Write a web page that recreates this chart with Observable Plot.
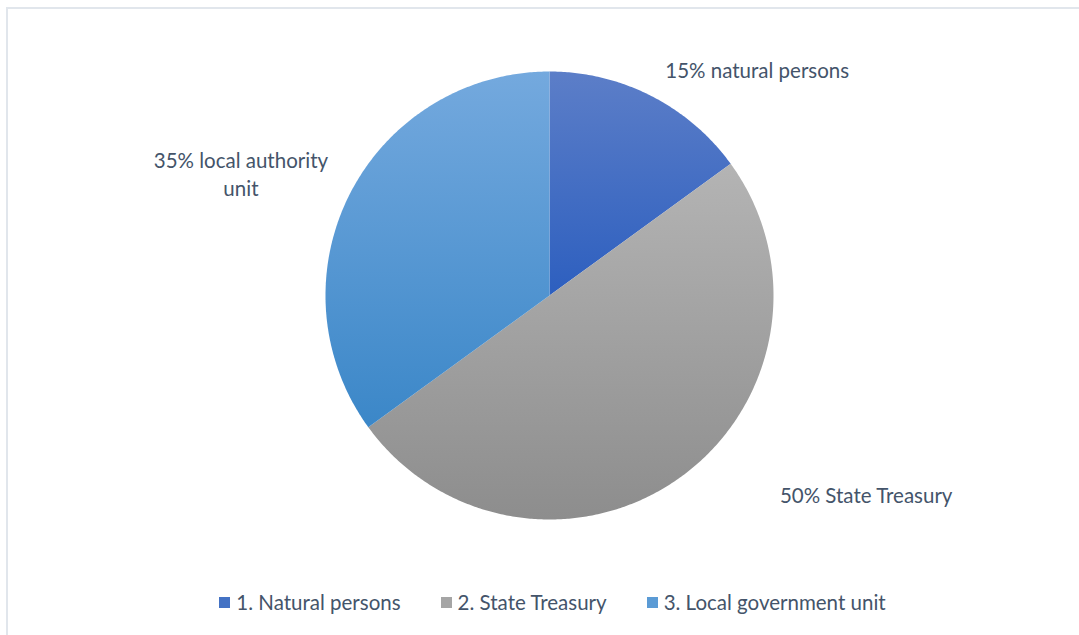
<!DOCTYPE html>
<html>
<head>
<meta charset="utf-8">
<script src="https://cdn.jsdelivr.net/npm/d3@7"></script>
<script src="https://cdn.jsdelivr.net/npm/@observablehq/plot@0.6"></script>
<style>
  html, body { margin: 0; padding: 0; background: #fff; width: 1079px; height: 635px; overflow: hidden; }
  #frame { position: absolute; left: 6px; top: 7px; width: 1090px; height: 650px; border: 2px solid #e1e6ec; box-sizing: border-box; }
  #chart { position: absolute; left: 0; top: 0; }
  #legend { position: absolute; left: 0; top: 590px; width: 1105px; display: flex; justify-content: center; gap: 40px;
            font-family: Lato, "Open Sans", sans-serif; font-size: 20.5px; color: #44546a; }
  .item { display: flex; align-items: center; }
  .sw { width: 11px; height: 11px; margin-right: 6px; display: inline-block; }
</style>
</head>
<body>
<div id="frame"></div>
<div id="chart"></div>
<div id="legend"></div>
<script>
// ---- data ----
const categories = ["1. Natural persons", "2. State Treasury", "3. Local government unit"];
const shares = [15, 50, 35];
const labels = ["15% natural persons", "50% State Treasury", "35% local authority\nunit"];
const legendColors = ["#4472c4", "#a5a5a5", "#5b9bd5"];
const gradTop = ["#5c7ec8", "#b4b4b4", "#74a9de"];
const gradBottom = ["#2d5fbf", "#8d8d8d", "#3b87c8"];

// ---- geometry derived from the data ----
const total = d3.sum(shares);
let acc = 0;
const slices = shares.map((v, i) => {
  const a0 = acc / total * 2 * Math.PI;
  acc += v;
  const a1 = acc / total * 2 * Math.PI;
  return {i, name: categories[i], a0, a1, mid: (a0 + a1) / 2, label: labels[i]};
});
function slicePoints(s) {
  const pts = [{x: 0, y: 0, name: s.name}];
  const n = Math.max(2, Math.ceil((s.a1 - s.a0) / (Math.PI / 360)));
  for (let k = 0; k <= n; k++) {
    const a = s.a0 + (s.a1 - s.a0) * k / n;
    pts.push({x: Math.sin(a), y: Math.cos(a), name: s.name});
  }
  return pts;
}
const labelOffsets = [[106, -27], [185, 17], [-109, -21]];

const marks = slices.map(s => Plot.line(slicePoints(s), {
  x: "x", y: "y", curve: "linear-closed", fill: `url(#grad${s.i})`, stroke: "none"
}));
slices.forEach((s, i) => {
  marks.push(Plot.text([s], {
    x: d => Math.sin(d.mid), y: d => Math.cos(d.mid), text: "label",
    dx: labelOffsets[i][0], dy: labelOffsets[i][1],
    fill: "#44546a", fontSize: 20.5, lineHeight: 1.37, textAnchor: "middle"
  }));
});

const svg = Plot.plot({
  width: 1079, height: 590,
  style: {fontFamily: 'Lato, "Open Sans", sans-serif', background: "transparent", overflow: "visible"},
  x: {domain: [-1, 1], range: [325, 773], axis: null},
  y: {domain: [-1, 1], range: [519, 71], axis: null},
  marks
});

// gradients
const defs = d3.select(svg).insert("defs", ":first-child");
slices.forEach(s => {
  const g = defs.append("linearGradient").attr("id", `grad${s.i}`)
    .attr("x1", 0).attr("y1", 0).attr("x2", 0).attr("y2", 1);
  g.append("stop").attr("offset", "0%").attr("stop-color", gradTop[s.i]);
  g.append("stop").attr("offset", "100%").attr("stop-color", gradBottom[s.i]);
});
document.getElementById("chart").appendChild(svg);

// legend
const lg = d3.select("#legend");
categories.forEach((c, i) => {
  const it = lg.append("div").attr("class", "item");
  it.append("span").attr("class", "sw").style("background", legendColors[i]);
  it.append("span").text(c);
});
</script>
</body>
</html>
